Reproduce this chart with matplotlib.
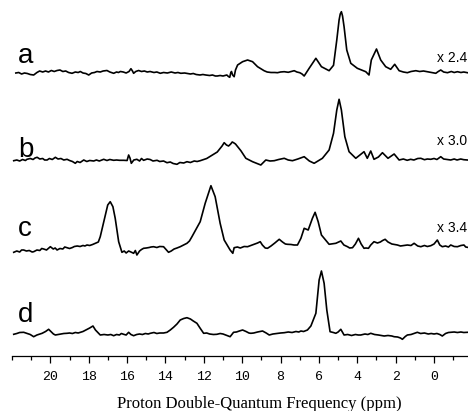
import numpy as np
import matplotlib
matplotlib.use("Agg")
import matplotlib.pyplot as plt
from matplotlib.ticker import MultipleLocator, FixedLocator, FixedFormatter

# spectra: chemical shift (ppm) and intensity (a.u.)
ppm_a = [21.8, 21.65, 21.5, 21.35, 21.2, 21.05, 20.87, 20.7, 20.56, 20.4, 20.25, 20.1,
         19.95, 19.8, 19.65, 19.5, 19.35, 19.2, 19.05, 18.87, 18.7, 18.55, 18.44, 18.3,
         18.15, 18.0, 17.85, 17.7, 17.57, 17.4, 17.25, 17.05, 16.9, 16.7, 16.55, 16.45,
         16.35, 16.2, 16.05, 15.9, 15.8, 15.72, 15.66, 15.55, 15.4, 15.25, 15.1, 14.95,
         14.8, 14.6, 14.45, 14.27, 14.1, 13.9, 13.7, 13.5, 13.35, 13.2, 13.0, 12.85, 12.7,
         12.55, 12.4, 12.2, 12.05, 11.9, 11.7, 11.55, 11.4, 11.3, 11.15, 11.0, 10.8, 10.72,
         10.65, 10.6, 10.56, 10.5, 10.42, 10.35, 10.24, 9.98, 9.72, 9.46, 9.2, 8.86, 8.7,
         8.5, 8.3, 8.16, 8.0, 7.81, 7.6, 7.45, 7.29, 7.15, 7.0, 6.88, 6.77, 6.51, 6.16,
         5.87, 5.47, 5.24, 5.07, 4.95, 4.89, 4.83, 4.77, 4.69, 4.55, 4.34, 4.0, 3.56, 3.39,
         3.27, 3.0, 2.78, 2.52, 2.26, 2.05, 1.82, 1.6, 1.39, 1.2, 0.95, 0.75, 0.55, 0.35,
         0.15, -0.09, -0.22, -0.35, -0.5, -0.7, -0.9, -1.05, -1.22, -1.4, -1.55, -1.74]
int_a = [-1.0, -0.5, -2.0, -1.0, -1.5, -2.5, -3.0, -0.5, 1.0, 0.0, 1.0, 0.0,
         1.5, 0.5, 1.5, 2.0, 0.5, 1.0, -0.5, -1.3, 0.0, -0.5, 0.5, -1.0,
         -1.5, -3.0, -1.0, -0.5, 0.5, 0.0, 1.0, 1.5, 0.0, -1.3, 0.0, -0.5,
         0.5, 0.0, -1.0, 0.5, 3.3, 1.0, -1.3, 0.5, 1.5, 0.5, 1.0, 0.0,
         0.5, -0.5, 0.0, -1.3, -0.5, -1.0, 0.0, -1.0, -0.5, -1.3, -1.0, -1.5, -2.0,
         -1.5, -2.5, -3.0, -2.5, -3.0, -3.5, -3.0, -4.0, -4.0, -3.5, -4.0, -3.0, -4.5,
         -5.3, -1.0, 0.5, -3.0, -4.7, 2.0, 7.0, 10.3, 12.0, 10.3, 5.3, 1.3, 0.0,
         -0.5, -0.5, -0.7, 0.0, 0.3, -0.3, 0.5, 1.3, 0.0, -0.7, -2.0, -4.0, 3.7, 13.7,
         5.3, 1.3, 6.7, 32.0, 52.0, 58.0, 60.3, 56.0, 45.3, 22.0, 8.7, 3.7, 0.3, -3.0,
         12.0, 23.0, 12.0, 5.3, 2.7, 7.7, 1.3, 0.0, -0.7, 0.5, 1.3, 0.5, 1.0, 0.3,
         -0.5, -1.3, 0.5, 2.0, 0.0, -0.7, 0.5, -0.5, 0.3, -0.5, 0.0, -0.7]

ppm_b = [21.91, 21.75, 21.6, 21.45, 21.3, 21.22, 21.05, 20.9, 20.8, 20.69, 20.55, 20.4,
         20.3, 20.17, 20.05, 19.9, 19.74, 19.6, 19.45, 19.3, 19.13, 19.0, 18.85, 18.7,
         18.6, 18.45, 18.26, 18.1, 17.95, 17.74, 17.6, 17.45, 17.22, 17.05, 16.9, 16.7,
         16.55, 16.4, 16.18, 16.0, 15.92, 15.85, 15.78, 15.65, 15.49, 15.35, 15.25, 15.14,
         14.95, 14.8, 14.65, 14.44, 14.3, 14.1, 13.92, 13.75, 13.6, 13.4, 13.25, 13.05,
         12.88, 12.7, 12.5, 12.35, 12.19, 12.0, 11.85, 11.75, 11.6, 11.41, 11.3, 11.15,
         11.05, 10.94, 10.82, 10.71, 10.6, 10.52, 10.45, 10.35, 10.24, 10.07, 9.81, 9.46,
         9.03, 8.77, 8.55, 8.33, 8.1, 7.81, 7.6, 7.38, 7.1, 6.77, 6.5, 6.25, 6.05, 5.82,
         5.47, 5.24, 5.07, 4.95, 4.83, 4.65, 4.43, 4.08, 3.65, 3.48, 3.3, 3.13, 2.9, 2.69,
         2.4, 2.08, 1.82, 1.6, 1.4, 1.22, 1.05, 0.85, 0.69, 0.5, 0.35, 0.17, 0.0, -0.15,
         -0.35, -0.5, -0.7, -0.87, -1.05, -1.2, -1.39, -1.55, -1.74]
int_b = [-0.7, 0.0, -1.0, 0.5, -0.5, 0.7, 1.5, 0.5, 2.0, 2.7, 1.0, 1.5,
         0.0, 0.0, 1.5, 0.5, 2.7, 1.0, 1.5, 0.0, 0.7, -0.5, -1.5, -3.3,
         -1.5, -2.5, 0.0, -1.5, -0.5, -1.0, 0.0, -1.0, 0.7, -0.5, 0.5, -0.3,
         0.0, -0.3, -0.3, -0.5, 5.0, 2.0, -3.3, 0.0, 0.7, -1.0, 1.5, -0.3,
         1.0, 0.5, -1.0, -0.3, -1.5, -1.0, -2.7, -2.0, -3.5, -4.3, -2.5, -3.0,
         -1.7, -2.5, -1.0, -1.5, -0.7, 0.5, 1.5, 2.7, 4.5, 6.7, 8.0, 11.7,
         14.0, 17.3, 15.0, 14.0, 16.0, 18.0, 17.3, 16.0, 13.3, 9.3, 1.7, -1.7,
         -5.0, 0.0, -1.0, -0.7, 0.5, 1.7, 0.0, -0.7, 1.0, 3.3, -1.0, -3.3, -1.0, 1.7,
         10.0, 26.7, 50.0, 60.7, 50.0, 23.3, 8.3, 1.7, 8.3, 1.7, 9.0, 0.7, 3.0, 7.3,
         1.7, 6.0, 0.0, 1.0, -0.3, 0.7, 0.0, 1.5, 1.7, 0.3, 1.0, 0.7, 1.5, 0.5,
         3.3, 1.0, 0.5, 0.0, 1.0, 0.0, 1.0, 0.3, 0.0]

ppm_c = [21.91, 21.75, 21.6, 21.5, 21.39, 21.25, 21.1, 20.95, 20.87, 20.7, 20.55, 20.45,
         20.35, 20.2, 20.0, 19.85, 19.75, 19.65, 19.5, 19.35, 19.25, 19.13, 19.0, 18.85,
         18.75, 18.6, 18.45, 18.3, 18.2, 18.09, 17.95, 17.8, 17.65, 17.5, 17.4, 17.13,
         17.01, 16.88, 16.74, 16.62, 16.44, 16.27, 16.15, 16.05, 15.92, 15.8, 15.66, 15.57,
         15.49, 15.35, 15.25, 15.14, 15.0, 14.85, 14.75, 14.62, 14.45, 14.3, 14.1, 13.95,
         13.84, 13.7, 13.55, 13.4, 13.23, 13.05, 12.88, 12.75, 12.62, 12.19, 11.93, 11.63,
         11.41, 11.15, 10.94, 10.63, 10.49, 10.42, 10.25, 10.1, 9.9, 9.72, 9.55, 9.38, 9.2,
         9.06, 8.95, 8.8, 8.68, 8.5, 8.3, 8.07, 7.9, 7.75, 7.64, 7.45, 7.3, 7.12, 6.94,
         6.77, 6.56, 6.34, 6.2, 6.04, 5.87, 5.47, 5.12, 4.86, 4.7, 4.51, 4.4, 4.25, 4.1,
         3.94, 3.8, 3.65, 3.55, 3.42, 3.3, 3.13, 2.95, 2.8, 2.68, 2.55, 2.4, 2.2, 2.05,
         1.91, 1.75, 1.55, 1.39, 1.2, 1.04, 0.85, 0.69, 0.5, 0.35, 0.17, 0.0, -0.17, -0.3,
         -0.43, -0.6, -0.75, -0.87, -1.05, -1.22, -1.4, -1.56, -1.65, -1.74]
int_c = [-2.3, -1.0, -2.0, 0.0, 0.0, -1.0, -0.5, -2.0, -1.7, 0.0, -0.5, 1.5,
         1.0, 0.0, 3.3, 1.0, 2.0, 0.0, 1.5, 1.0, 3.0, 2.3, 1.5, 2.5,
         3.5, 4.0, 3.5, 4.5, 4.0, 5.0, 4.5, 5.5, 6.7, 8.0, 13.3, 35.0,
         45.0, 48.3, 43.3, 31.7, 8.3, -2.3, -1.0, -3.0, -1.0, -2.0, -3.3, -0.5,
         -5.0, -1.0, 0.5, 1.7, 2.0, 2.5, 3.0, 3.3, 2.5, 3.5, 3.3, 0.0,
         -2.3, -1.0, 1.0, 2.0, 3.3, 5.0, 6.7, 9.0, 13.3, 28.3, 46.7, 64.3,
         53.3, 26.7, 10.0, 0.0, -3.3, 2.3, 3.0, 2.0, 3.5, 3.3, 4.5, 5.7, 7.0,
         8.3, 5.0, 2.0, 1.7, 4.0, 7.0, 10.7, 8.0, 6.0, 5.7, 5.5, 5.0, 5.0, 11.7,
         21.7, 20.0, 31.7, 37.7, 28.3, 15.0, 5.7, 6.7, 9.0, 5.0, 3.3, 2.0, 2.3, 6.0,
         11.7, 6.0, 1.7, 2.0, 1.7, 5.0, 8.3, 7.0, 8.0, 9.5, 10.7, 8.0, 6.0, 5.5,
         5.0, 4.0, 4.5, 5.0, 4.5, 6.7, 4.0, 3.3, 4.5, 3.5, 4.3, 6.0, 10.0, 5.0,
         3.3, 4.0, 3.0, 5.0, 3.5, 3.3, 4.5, 5.0, 3.0, 2.7]

ppm_d = [21.91, 21.75, 21.6, 21.39, 21.2, 21.05, 20.87, 20.7, 20.55, 20.43, 20.25, 20.09,
         19.95, 19.84, 19.74, 19.6, 19.45, 19.3, 19.13, 19.0, 18.85, 18.7, 18.55, 18.44,
         18.3, 18.1, 17.95, 17.78, 17.65, 17.5, 17.4, 17.2, 17.0, 16.85, 16.7, 16.55, 16.4,
         16.3, 16.18, 16.05, 15.92, 15.8, 15.66, 15.5, 15.35, 15.2, 15.05, 14.9, 14.79,
         14.6, 14.45, 14.3, 14.1, 13.92, 13.75, 13.58, 13.4, 13.23, 13.05, 12.88, 12.7,
         12.55, 12.36, 12.2, 12.01, 11.85, 11.7, 11.5, 11.32, 11.15, 11.0, 10.8, 10.63,
         10.52, 10.45, 10.3, 10.15, 9.98, 9.8, 9.65, 9.55, 9.4, 9.2, 8.94, 8.75, 8.59, 8.4,
         8.2, 8.0, 7.81, 7.6, 7.4, 7.2, 7.05, 6.94, 6.8, 6.6, 6.42, 6.16, 5.99, 5.87, 5.73,
         5.59, 5.42, 5.25, 5.12, 5.0, 4.86, 4.75, 4.69, 4.5, 4.3, 4.1, 3.95, 3.82, 3.6,
         3.45, 3.3, 3.1, 2.9, 2.75, 2.6, 2.4, 2.2, 2.08, 1.9, 1.75, 1.65, 1.5, 1.39, 1.2,
         1.05, 0.87, 0.7, 0.5, 0.3, 0.15, 0.0, -0.15, -0.3, -0.43, -0.6, -0.75, -0.87,
         -1.05, -1.22, -1.4, -1.55, -1.74]
int_d = [-1.3, -0.5, 0.5, 0.7, -0.5, -1.5, -3.7, -2.0, -1.0, -0.3, 1.5, 3.7,
         1.0, -1.0, -2.0, -1.5, -1.0, -0.5, -0.3, 0.0, -0.5, 0.5, 0.0, 0.7,
         1.5, 3.5, 5.0, 7.0, 3.0, 0.0, -2.0, -1.5, -2.0, -1.5, -2.7, -1.5, -2.0,
         -0.5, -1.3, -2.0, 0.7, -1.5, -2.7, -1.5, -1.0, -1.5, -0.5, -1.0, -0.3,
         0.5, -0.5, 0.0, 0.0, 0.7, 3.0, 5.7, 9.0, 13.0, 14.5, 15.3, 14.0,
         12.0, 9.7, 5.0, -0.3, 0.0, -1.0, -1.5, -1.3, -0.5, -1.0, -2.5, -3.7,
         -1.0, 0.7, 1.0, 2.0, 3.0, 1.5, 0.0, -0.3, 0.0, 1.0, 2.0, 0.0, -2.0, -1.0,
         -0.5, 0.0, 0.3, 1.0, 0.5, 1.5, 1.0, 2.0, 1.5, 3.0, 7.0, 19.7, 53.0, 62.0, 49.7,
         23.0, 1.3, 0.5, -0.3, 1.0, 3.7, 0.0, -2.0, -1.5, -2.5, -1.5, -2.0, -2.0, -1.0,
         -1.5, -0.3, -1.5, -2.0, -2.5, -3.0, -2.5, -3.0, -3.7, -4.0, -5.0, -6.3, -3.5, -2.0, -1.5,
         -0.5, 0.7, -0.5, 0.0, -1.0, -0.5, -1.0, -0.5, -1.5, -3.0, -0.5, 0.5, 0.7,
         1.0, 0.5, 1.0, 0.5, 0.7]

labels = ["a", "b", "c", "d"]
scales = ["x 2.4", "x 3.0", "x 3.4", None]
tick_values = [20, 18, 16, 14, 12, 10, 8, 6, 4, 2, 0]

W, H = 468, 411
fig = plt.figure(figsize=(W / 100, H / 100), dpi=100)
ax = fig.add_axes([12 / W, (H - 356) / H, 1 - 12 / W, 356 / H])

# vertical stacking (pixels above the axis line)
offsets = [284, 196, 106, 23]
traces = [(ppm_a, int_a), (ppm_b, int_b), (ppm_c, int_c), (ppm_d, int_d)]
for (x, y), off in zip(traces, offsets):
    ax.plot(x, np.array(y) + off, color="black", lw=1.2)

ax.set_xlim(22, -1.77)
ax.set_ylim(0, 356)

for s in ["left", "right", "top"]:
    ax.spines[s].set_visible(False)
ax.spines["bottom"].set_linewidth(0.9)
ax.set_yticks([])

ax.xaxis.set_major_locator(FixedLocator(tick_values))
ax.xaxis.set_major_formatter(FixedFormatter([str(v) for v in tick_values]))
ax.xaxis.set_minor_locator(MultipleLocator(1))
ax.tick_params(axis="x", which="major", direction="out", length=5, width=0.9, pad=6,
               labelsize=9.5)
ax.tick_params(axis="x", which="minor", direction="out", length=3, width=0.9)
for t in ax.get_xticklabels():
    t.set_family("Liberation Mono")

# trace letters and scale factors
letter_y = [63, 157, 236, 322]
scale_y = [62, 145, 232, None]
for lab, ly in zip(labels, letter_y):
    fig.text(18 / W, 1 - ly / H, lab, fontsize=20, family="Liberation Sans", va="baseline")
for sc, sy in zip(scales, scale_y):
    if sc:
        fig.text(437 / W, 1 - sy / H, sc, fontsize=10, family="Liberation Sans", va="baseline")

fig.text(259.5 / W, 1 - 408 / H, "Proton Double-Quantum Frequency (ppm)", fontsize=12,
         family="Liberation Serif", ha="center", va="baseline")

fig.savefig("out.png", dpi=100)
